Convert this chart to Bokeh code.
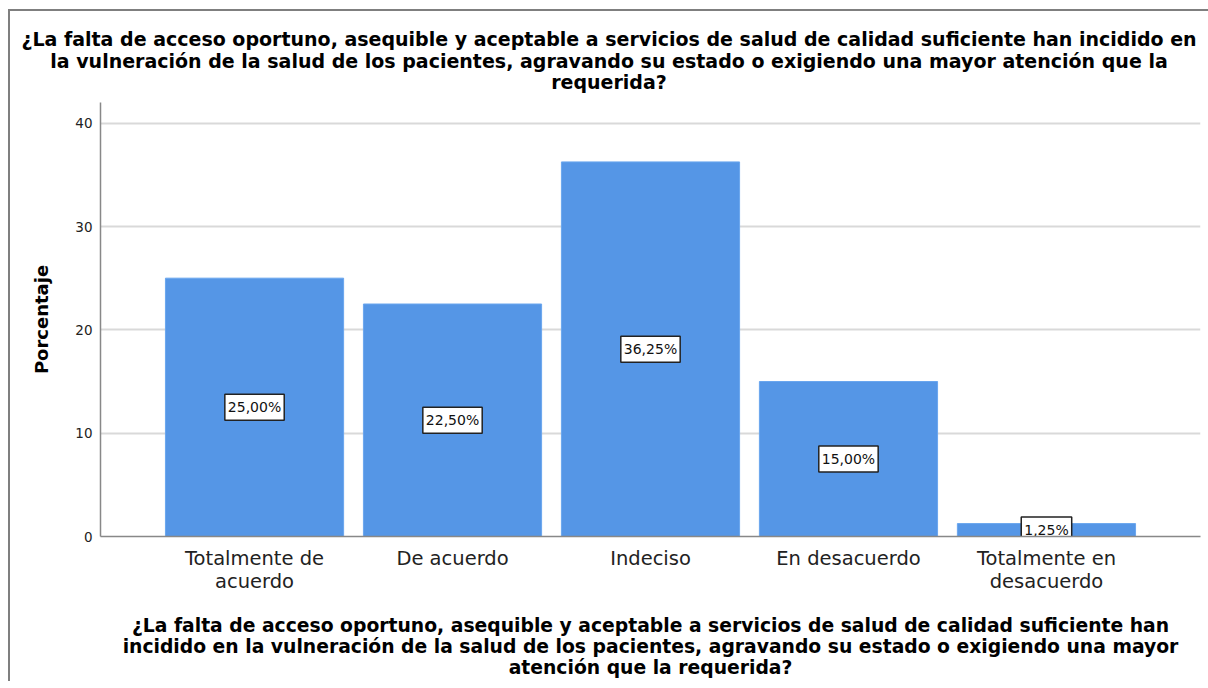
import html
from bokeh.plotting import figure
from bokeh.models import FactorRange, Range1d, FixedTicker, ColumnDataSource, Div
from bokeh.layouts import column
from bokeh.core.properties import value
from bokeh.embed import file_html
from bokeh.resources import INLINE

# ---- data ----
categories = ["Totalmente de\nacuerdo", "De acuerdo", "Indeciso", "En desacuerdo", "Totalmente en\ndesacuerdo"]
percentages = [25.0, 22.5, 36.25, 15.0, 1.25]
y_ticks = [0, 10, 20, 30, 40]

title_lines = ["¿La falta de acceso oportuno, asequible y aceptable a servicios de salud de calidad suficiente han incidido en",
               "la vulneración de la salud de los pacientes, agravando su estado o exigiendo una mayor atención que la",
               "requerida?"]
x_title_lines = ["¿La falta de acceso oportuno, asequible y aceptable a servicios de salud de calidad suficiente han",
                 "incidido en la vulneración de la salud de los pacientes, agravando su estado o exigiendo una mayor",
                 "atención que la requerida?"]
y_title_text = "Porcentaje"

labels = [f"{v:.2f}%".replace(".", ",") for v in percentages]
mids = [v / 2 for v in percentages]

src = ColumnDataSource(dict(cat=categories, pct=percentages, lab=labels, mid=mids))

FONT = "DejaVu Sans"

# ---- title (centred over the whole chart) ----
title_html = ('<div style="font-family:\'DejaVu Sans\'; font-weight:bold; font-size:19px; '
              'line-height:21.5px; text-align:center; color:#000; padding-top:18px; width:1198px;">'
              + "<br>".join(html.escape(l) for l in title_lines) + "</div>")
title_div = Div(text=title_html, width=1198, height=91, margin=(0, 0, 0, 0))

p = figure(
    x_range=FactorRange(factors=categories, range_padding=0.278, range_padding_units="absolute"),
    y_range=Range1d(0, 42),
    width=1198, height=579,
    output_backend="svg", toolbar_location=None,
    min_border_left=90, min_border_right=8, min_border_top=0, min_border_bottom=145,
)
p.outline_line_color = None
p.background_fill_color = "white"
p.border_fill_color = "white"

p.vbar(x="cat", top="pct", width=0.9, source=src, fill_color="#5596E6", line_color="#6aa6ee", line_width=1)

p.text(x="cat", y="mid", text="lab", source=src,
       text_font=value(FONT), text_font_size="14px", text_color="#111111",
       text_align="center", text_baseline="middle",
       background_fill_color="white", border_line_color="#222222", border_line_width=1.5,
       padding=(3, 5))

# grids
p.xgrid.grid_line_color = None
p.ygrid.grid_line_color = "#d9d9d9"
p.ygrid.grid_line_width = 2
p.yaxis.ticker = FixedTicker(ticks=y_ticks)

# axes
for ax in (p.xaxis[0], p.yaxis[0]):
    ax.axis_line_color = "#888888"
    ax.axis_line_width = 1.5
    ax.major_tick_line_color = None
    ax.minor_tick_line_color = None
    ax.major_tick_out = 0
    ax.major_tick_in = 0
    ax.major_label_text_font = FONT
    ax.major_label_text_color = "#222222"
    ax.axis_label_text_font = FONT
    ax.axis_label_text_font_style = "bold"
    ax.axis_label_text_color = "#000000"

p.yaxis.major_label_text_font_size = "13.5px"
p.yaxis.major_label_standoff = 8
p.yaxis.axis_label = y_title_text
p.yaxis.axis_label_text_font_size = "18px"
p.yaxis.axis_label_standoff = 20

p.xaxis.major_label_text_font_size = "19.5px"
p.xaxis.major_label_text_line_height = 1.0
p.xaxis.major_label_standoff = 10
p.xaxis.axis_label = "\n".join(x_title_lines)
p.xaxis.axis_label_text_font_size = "18.75px"
p.xaxis.axis_label_text_line_height = 1.0
p.xaxis.axis_label_standoff = 19

layout = column(title_div, p, spacing=0)
layout.styles = {"margin-left": "8px", "margin-top": "9px",
                 "border-left": "2px solid #7f7f7f", "border-top": "2px solid #7f7f7f",
                 "background-color": "white"}

page = file_html(layout, INLINE)
page = page.replace("<body>", '<body style="overflow:hidden">', 1)
open("out.html", "w").write(page)
